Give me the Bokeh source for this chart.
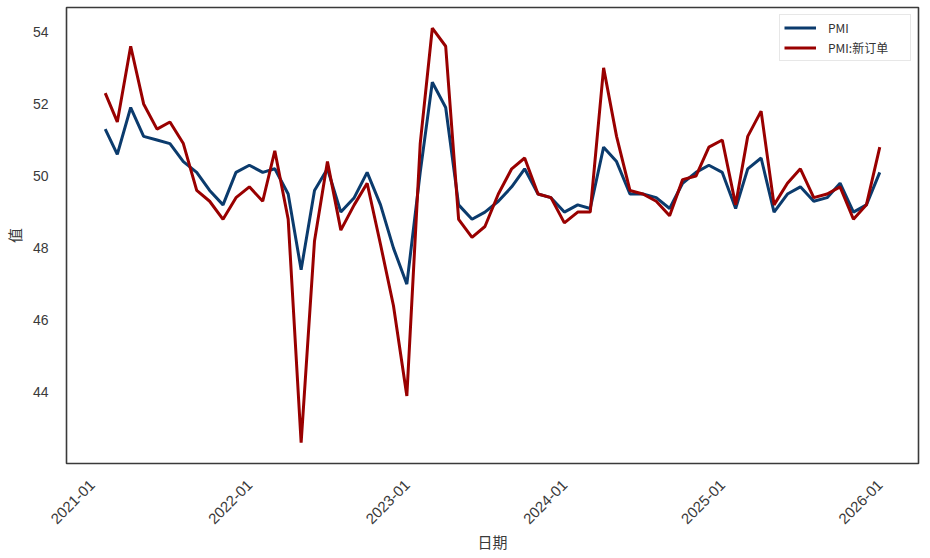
import pandas as pd
from math import pi
from bokeh.plotting import figure
from bokeh.models import ColumnDataSource, Range1d, FixedTicker, DatetimeTickFormatter, Legend, LegendItem
from bokeh.embed import file_html
from bokeh.resources import INLINE

dates = pd.date_range("2021-01-31", "2025-12-31", freq="ME")

pmi = [51.3, 50.6, 51.9, 51.1, 51.0, 50.9, 50.4, 50.1, 49.6, 49.2, 50.1, 50.3,
       50.1, 50.2, 49.5, 47.4, 49.6, 50.2, 49.0, 49.4, 50.1, 49.2, 48.0, 47.0,
       50.1, 52.6, 51.9, 49.2, 48.8, 49.0, 49.3, 49.7, 50.2, 49.5, 49.4, 49.0,
       49.2, 49.1, 50.8, 50.4, 49.5, 49.5, 49.4, 49.1, 49.8, 50.1, 50.3, 50.1,
       49.1, 50.2, 50.5, 49.0, 49.5, 49.7, 49.3, 49.4, 49.8, 49.0, 49.2, 50.1]

new_orders = [52.3, 51.5, 53.6, 52.0, 51.3, 51.5, 50.9, 49.6, 49.3, 48.8, 49.4, 49.7,
              49.3, 50.7, 48.8, 42.6, 48.2, 50.4, 48.5, 49.2, 49.8, 48.1, 46.4, 43.9,
              50.9, 54.1, 53.6, 48.8, 48.3, 48.6, 49.5, 50.2, 50.5, 49.5, 49.4, 48.7,
              49.0, 49.0, 53.0, 51.1, 49.6, 49.5, 49.3, 48.9, 49.9, 50.0, 50.8, 51.0,
              49.2, 51.1, 51.8, 49.2, 49.8, 50.2, 49.4, 49.5, 49.7, 48.8, 49.2, 50.8]

series_names = ["PMI", "PMI:新订单"]
series_colors = ["#0b3b6d", "#990000"]
y_ticks = [44, 46, 48, 50, 52, 54]
x_tick_labels = ["2021-01", "2022-01", "2023-01", "2024-01", "2025-01", "2026-01"]

src = ColumnDataSource(dict(date=dates, pmi=pmi, new_orders=new_orders))

# 5% margins like matplotlib
dmin, dmax = dates.min(), dates.max()
dspan = dmax - dmin
x_start = dmin - dspan * 0.05
x_end = dmax + dspan * 0.05
allv = pmi + new_orders
vmin, vmax = min(allv), max(allv)
vspan = vmax - vmin

p = figure(x_axis_type="datetime", output_backend="svg", toolbar_location=None,
           frame_width=852, frame_height=456,
           min_border_left=66, min_border_top=7, min_border_right=2, min_border_bottom=78,
           x_range=Range1d(x_start, x_end),
           y_range=Range1d(vmin - 0.05 * vspan, vmax + 0.05 * vspan))

p.background_fill_color = "white"
p.border_fill_color = "white"
p.outline_line_color = "#3a3a3a"
p.outline_line_width = 1.6
p.xgrid.grid_line_color = None
p.ygrid.grid_line_color = None

r1 = p.line("date", "pmi", source=src, line_color=series_colors[0], line_width=3)
r2 = p.line("date", "new_orders", source=src, line_color=series_colors[1], line_width=3)

tick_ms = [pd.Timestamp(t + "-01").value / 1e6 for t in x_tick_labels]
p.xaxis.ticker = FixedTicker(ticks=tick_ms)
p.xaxis.formatter = DatetimeTickFormatter(days="%Y-%m", months="%Y-%m", years="%Y-%m")
p.xaxis.major_label_orientation = pi / 4
p.yaxis.ticker = FixedTicker(ticks=y_ticks)

for ax in (p.xaxis[0], p.yaxis[0]):
    ax.axis_line_color = None
    ax.major_tick_line_color = None
    ax.minor_tick_line_color = None
    ax.major_label_text_font = "Liberation Sans"
    ax.major_label_text_color = "#3a3a3a"
    ax.axis_label_text_font = "Noto Sans CJK SC"
    ax.axis_label_text_font_style = "normal"
    ax.axis_label_text_font_size = "15px"
    ax.axis_label_text_color = "#3a3a3a"

p.xaxis.major_label_text_font_size = "15px"
p.yaxis.major_label_text_font_size = "14px"
p.xaxis.axis_label = "日期"
p.yaxis.axis_label = "值"
p.xaxis.major_label_standoff = 13
p.xaxis.axis_label_standoff = 0
p.yaxis.major_label_standoff = 12

legend = Legend(items=[LegendItem(label=series_names[0], renderers=[r1]),
                       LegendItem(label=series_names[1], renderers=[r2])],
                location="top_right")
legend.label_text_font = "Noto Sans CJK SC"
legend.label_text_font_size = "12px"
legend.label_text_color = "#333333"
legend.border_line_color = "#d0d0d0"
legend.border_line_width = 1
legend.background_fill_alpha = 1.0
legend.glyph_width = 32
legend.glyph_height = 17
legend.label_height = 17
legend.label_width = 78
legend.spacing = 3
legend.padding = 4
legend.margin = 7
legend.label_standoff = 12
p.add_layout(legend)

open("out.html", "w").write(file_html(p, INLINE))
